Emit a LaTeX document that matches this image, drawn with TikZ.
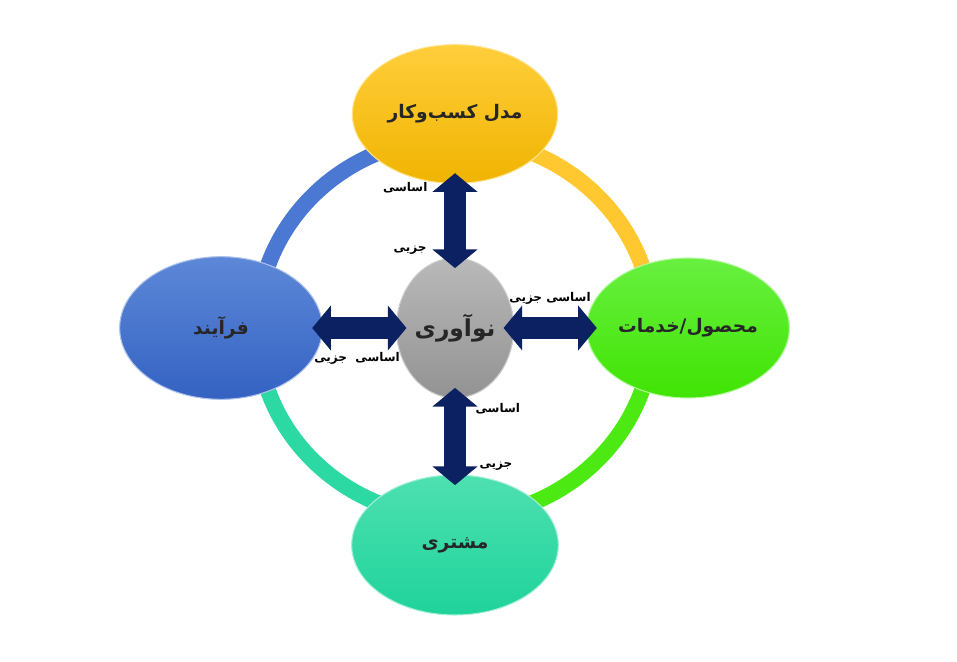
\documentclass[tikz,border=0pt]{standalone}
\usepackage{fontspec}
\usepackage{xcolor}
\usetikzlibrary{shapes.geometric}
\usetikzlibrary{arrows.meta}
\TeXXeTstate=1
\newfontfamily\arabicfont[Script=Arabic]{DejaVu Sans}
\definecolor{navyarrow}{HTML}{0B2161}
\definecolor{textdark}{HTML}{262626}
\definecolor{ringblue}{HTML}{4A78D2}
\definecolor{ringyellow}{HTML}{FFC830}
\definecolor{ringgreen}{HTML}{4CEA12}
\definecolor{ringteal}{HTML}{2CD9A2}
\definecolor{goldtop}{HTML}{FFCE3C}
\definecolor{goldbot}{HTML}{F0B400}
\definecolor{greentop}{HTML}{68F040}
\definecolor{greenbot}{HTML}{40E404}
\definecolor{tealtop}{HTML}{4EE0B0}
\definecolor{tealbot}{HTML}{1FD39A}
\definecolor{bluetop}{HTML}{5D88D8}
\definecolor{bluebot}{HTML}{3462C2}

\begin{document}
\begin{tikzpicture}[x=0.75pt,y=0.75pt,
  part/.style={ellipse, inner sep=0pt, line width=0.8pt,
    font=\arabicfont\bfseries\fontsize{14}{17}\selectfont, text=textdark},
  dblarrow/.style={navyarrow, line width=17pt,
    {Triangle[width=33pt,length=14pt]}-{Triangle[width=33pt,length=14pt]},
    shorten <=-8pt, shorten >=-8pt},
  note/.style={font=\arabicfont\bfseries\fontsize{9}{11}\selectfont, inner sep=1pt}]
\useasboundingbox (0,0) rectangle (957,661);

\foreach \s/\c in {90/ringblue,0/ringyellow,-90/ringgreen,-180/ringteal} {
 \draw[\c, line width=12pt] (455,333) ++(\s:198 and 190)
   arc[start angle=\s, end angle=\s+90, x radius=198, y radius=190];
}

\node[part, minimum width=154pt, minimum height=104pt, draw=goldtop!60!white,
  top color=goldtop, bottom color=goldbot] (model) at (455,547) {\beginR مدل کسب‌وکار\endR};
\node[part, minimum width=152pt, minimum height=105pt, draw=greentop!50!white,
  top color=greentop, bottom color=greenbot] (product) at (688,333) {\beginR محصول/خدمات\endR};
\node[part, minimum width=155pt, minimum height=105pt, draw=tealtop!50!white,
  top color=tealtop, bottom color=tealbot] (customer) at (455,116) {\beginR مشتری\endR};
\node[part, minimum width=152pt, minimum height=107pt, draw=bluetop!50!white,
  top color=bluetop, bottom color=bluebot] (process) at (221,333) {\beginR فرآیند\endR};
\node[part, minimum width=88pt, minimum height=105pt, draw=gray!40,
  top color=gray!55, bottom color=gray!85,
  font=\arabicfont\bfseries\fontsize{17.5}{21}\selectfont] (hub) at (455,333) {\beginR نوآوری\endR};

\draw[dblarrow] (model.south) -- (hub.north);
\draw[dblarrow] (hub.south) -- (customer.north);
\draw[dblarrow] (process.east) -- (hub.west);
\draw[dblarrow] (hub.east) -- (product.west);

\node[note, anchor=east] (tbasic) at (429,473) {\beginR اساسی\endR};
\node[note, anchor=east] (tpart) at (428,411) {\beginR جزیی\endR};
\node[note] (rlabel) at (550,363) {\beginR اساسی جزیی\endR};
\node[note] (llabel) at (357,303) {\beginR اساسی\ \ جزیی\endR};
\node[note, anchor=west] (bbasic) at (474,252) {\beginR اساسی\endR};
\node[note, anchor=west] (bpart) at (478,195) {\beginR جزیی\endR};
\end{tikzpicture}
\end{document}
